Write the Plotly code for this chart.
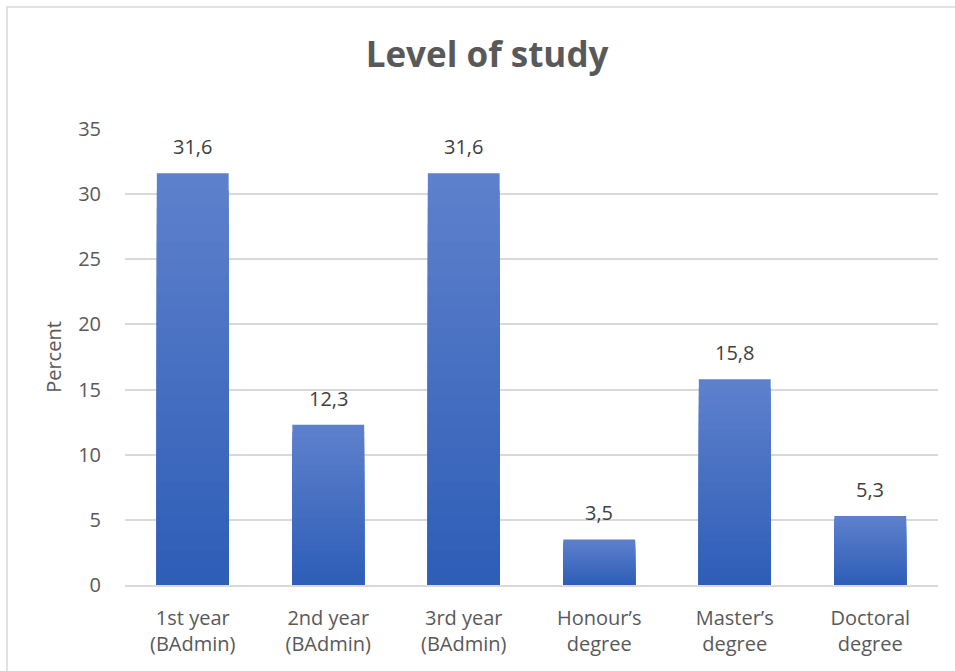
import plotly.graph_objects as go

categories = ["1st year<br>(BAdmin)", "2nd year<br>(BAdmin)", "3rd year<br>(BAdmin)",
              "Honour’s<br>degree", "Master’s<br>degree", "Doctoral<br>degree"]
values = [31.6, 12.3, 31.6, 3.5, 15.8, 5.3]
labels = ["31,6", "12,3", "31,6", "3,5", "15,8", "5,3"]
y_ticks = [0, 5, 10, 15, 20, 25, 30, 35]

W, H = 955, 671
ML, MR, MT, MB = 125, 17, 129, 86

fig = go.Figure()

# gradient: light at top, dark at bottom, built from overlaid scaled bars
top = (93, 128, 204)
bot = (47, 94, 183)
N = 24
for k in range(N):
    f = 1 - k / N
    t = k / (N - 1)
    c = tuple(int(round(top[i] + (bot[i] - top[i]) * t)) for i in range(3))
    fig.add_trace(go.Bar(
        x=categories, y=[v * f for v in values],
        marker=dict(color=f"rgb{c}", line=dict(width=0)),
        width=0.53, hoverinfo="skip", showlegend=False,
    ))

for c, v, l in zip(categories, values, labels):
    fig.add_annotation(x=c, y=v, text=l, showarrow=False, yanchor="bottom",
                       yshift=11, font=dict(size=20, color="#404040", family="Open Sans"))

pw = W - ML - MR
ph = H - MT - MB
fig.add_shape(type="rect", xref="paper", yref="paper",
              x0=(7 - ML) / pw, x1=(W + 5 - ML) / pw,
              y0=-(H + 5 - MT - ph) / ph, y1=(H - MB - 7) / ph,
              line=dict(color="#d9d9d9", width=1.5), layer="below")

fig.update_layout(
    width=W, height=H,
    margin=dict(l=ML, r=MR, t=MT, b=MB),
    barmode="overlay", bargap=0.47,
    plot_bgcolor="white", paper_bgcolor="white",
    title=dict(text="<b>Level of study</b>", x=0.51, xanchor="center", y=0.918, yanchor="middle",
               font=dict(size=35, color="#595959", family="Open Sans")),
    font=dict(family="Open Sans", color="#595959"),
    xaxis=dict(showgrid=False, showline=True, linecolor="#d9d9d9", linewidth=1.5,
               tickfont=dict(size=20, color="#595959"), ticks="", ticklabelstandoff=14),
    yaxis=dict(range=[0, 35], tickvals=y_ticks, showgrid=True, gridcolor="#d9d9d9", gridwidth=1.5,
               zeroline=False, showline=False, ticks="", ticklabelstandoff=23,
               tickfont=dict(size=20, color="#595959"),
               title=dict(text="Percent", font=dict(size=20, color="#595959"), standoff=11)),
)

fig.write_html("out.html")
